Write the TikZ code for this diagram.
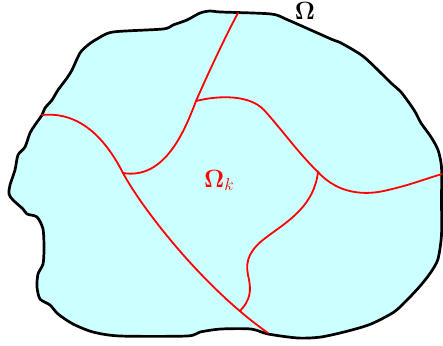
\documentclass[tikz,border=0pt]{standalone}
\usepackage{amsmath}
\definecolor{regionfill}{RGB}{204,255,255}
\begin{document}
\begin{tikzpicture}[x=1pt,y=-1pt,
  boundary/.style={draw=black,line width=2.7pt,fill=regionfill,line join=round},
  cut/.style={draw=red,line width=1.8pt,line cap=round},
  lbl/.style={font=\fontsize{23}{26}\selectfont,inner sep=0pt}]
\useasboundingbox (0,0) rectangle (443,345);
\path[boundary] plot[smooth cycle,tension=0.45] coordinates {
(113,32)(163,29)(173,25)(187,20)(200,13)(210,11)(221,12)(271,14)(288,20)(331,39)(341,43)(364,57)(391,83)(401,92)(414,110)(421,123)(431,137)(438,150)(441.5,167)(441.5,200)(441.5,235)(438,259)(431,272)(421,285)(408,299)(394,312)(371,324)(348,331)(321,337)(298,338)(268,334)(251,329)(221,329)(200,332)(187,336)(120,336)(93,332)(73,324)(58,314)(50,305)(40,299)(37,287)(38,274)(43,264)(44,249)(43,229)(37,217)(27,214)(23,209)(13,200)(9,194)(10,185)(15,170)(18,155)(25,147)(30,133)(35,125)(42,115)(45,108)(52,100)(58,90)(67,78)(72,70)(80,53)(88,45)(97,39)};
\coordinate (A) at (238,13);
\coordinate (B) at (42,115);
\coordinate (C) at (268,333);
\coordinate (D) at (442,174);
\coordinate (J1) at (123,173);
\coordinate (J2) at (196,101);
\coordinate (J3) at (318,172);
\coordinate (J4) at (240,311);
\draw[cut] (A) .. controls (226,35) and (206,78) .. (J2)
  .. controls (185,130) and (165,180) .. (J1);
\draw[cut] (B) .. controls (72,112) and (100,128) .. (J1)
  .. controls (140,205) and (200,285) .. (C);
\draw[cut] (J2) .. controls (220,95) and (250,95) .. (264,110)
  .. controls (278,125) and (300,155) .. (J3);
\draw[cut] (J3) .. controls (338,194) and (365,196) .. (388,190)
  .. controls (410,185) and (425,179) .. (D);
\draw[cut] (J3) .. controls (314,205) and (290,220) .. (268,236)
  .. controls (250,249) and (245,260) .. (248,275)
  .. controls (252,292) and (250,300) .. (J4);
\node[lbl,text=black] (omega) at (305,11) {$\mathbf{\Omega}$};
\node[lbl,text=red,anchor=base west] (omegak) at (204,187) {$\mathbf{\Omega}_{k}$};
\end{tikzpicture}
\end{document}
